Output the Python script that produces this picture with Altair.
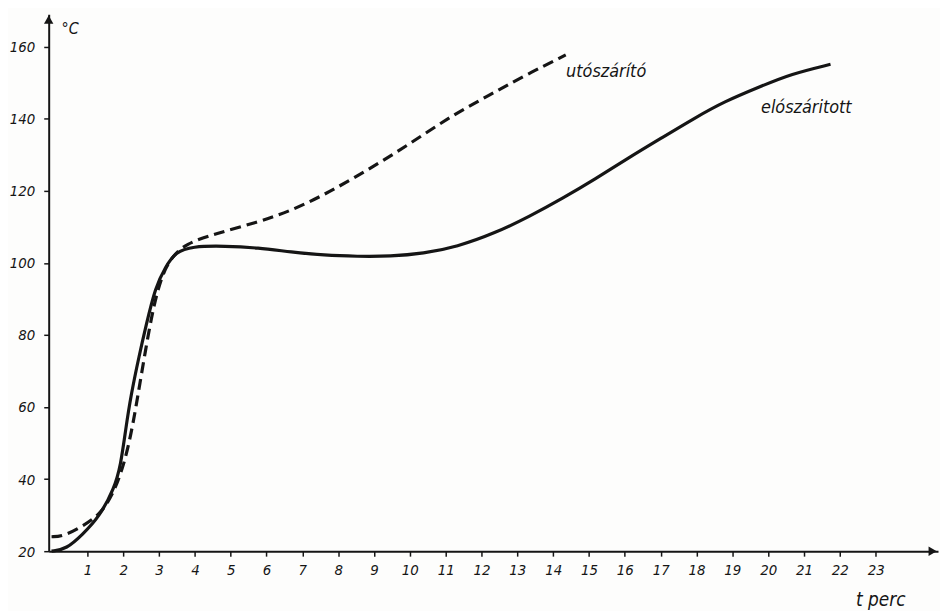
import altair as alt
import pandas as pd

# előszárított (solid) – time [min], temperature [°C]
solid_t = [0.0, 0.42, 0.86, 1.33, 1.75, 1.93, 2.07, 2.21, 2.45, 2.63, 2.9, 3.18, 3.46, 3.92, 4.84,
           5.76, 6.69, 7.61, 8.53, 9.46, 10.38, 11.3, 12.41, 13.34, 14.26, 15.18, 16.11, 17.03,
           17.95, 18.78, 19.8, 20.63, 21.74]
solid_T = [20.0, 20.6, 24.6, 29.5, 37.4, 43.8, 53.9, 63.0, 74.5, 82.3, 93.4, 98.9, 103.0, 104.6,
           104.7, 104.2, 103.0, 102.1, 101.8, 101.8, 102.6, 104.4, 108.4, 112.9, 117.9, 123.3,
           129.2, 134.7, 140.2, 144.8, 149.0, 152.4, 155.1]

# utószárító (dashed)
dash_t = [0.0, 0.32, 0.86, 1.33, 1.7, 2.02, 2.25, 2.44, 2.81, 3.09, 3.36, 3.73, 4.57, 5.76,
          6.69, 7.61, 8.53, 9.46, 10.38, 11.3, 12.23, 13.15, 14.35]
dash_T = [24.0, 24.1, 26.9, 30.0, 35.4, 43.8, 53.9, 65.0, 86.9, 97.0, 101.6, 105.3, 108.1, 111.3,
          114.5, 118.9, 124.1, 129.6, 135.6, 141.6, 146.6, 151.7, 157.7]

x_ticks = list(range(1, 24))
y_ticks = [20, 40, 60, 80, 100, 120, 140, 160]

series_labels = ["utószárító", "elószáritott"]
label_t = [14.36, 19.8]
label_T = [153.0, 142.9]

X_DOM = [-0.08, 24.74]
Y_DOM = [20, 169]

FONT = "DejaVu Sans Condensed, Liberation Sans Narrow, DejaVu Sans"
INK = "#151515"

df_solid = pd.DataFrame({"t": solid_t, "T": solid_T})
df_dash = pd.DataFrame({"t": dash_t, "T": dash_T})
df_lab = pd.DataFrame({"t": label_t, "T": label_T, "label": series_labels})

xs = alt.Scale(domain=X_DOM, nice=False, zero=False)
ys = alt.Scale(domain=Y_DOM, nice=False, zero=False)

xaxis = alt.Axis(values=x_ticks, title=None, grid=False, domainColor=INK, domainWidth=2,
                 tickColor=INK, tickWidth=1.5, tickSize=5, labelFont=FONT, labelFontStyle="italic",
                 labelFontSize=15, labelColor=INK, labelPadding=6, labelFlush=False)
yaxis = alt.Axis(values=y_ticks, title=None, grid=False, domainColor=INK, domainWidth=2,
                 tickColor=INK, tickWidth=1.5, tickSize=5, labelFont=FONT, labelFontStyle="italic",
                 labelFontSize=15, labelColor=INK, labelPadding=9, labelFlush=False)

solid = alt.Chart(df_solid).mark_line(color=INK, strokeWidth=3.2, interpolate="basis").encode(
    x=alt.X("t:Q", scale=xs, axis=xaxis),
    y=alt.Y("T:Q", scale=ys, axis=yaxis),
)
dashed = alt.Chart(df_dash).mark_line(color=INK, strokeWidth=3.2, strokeDash=[11, 6],
                                       interpolate="basis").encode(
    x=alt.X("t:Q", scale=xs),
    y=alt.Y("T:Q", scale=ys),
)
labels = alt.Chart(df_lab).mark_text(font=FONT, fontStyle="italic", fontSize=18, color=INK,
                                      align="left", baseline="middle").encode(
    x=alt.X("t:Q", scale=xs), y=alt.Y("T:Q", scale=ys), text="label:N")

axis_txt = pd.DataFrame({"t": [0.28, 22.45], "T": [164.9, 6.4], "label": ["°C", "t perc"],
                         "size": [16, 19]})
axis_labels = alt.Chart(axis_txt).mark_text(font=FONT, fontStyle="italic", color=INK,
                                             align="left", baseline="middle").encode(
    x=alt.X("t:Q", scale=xs), y=alt.Y("T:Q", scale=ys), text="label:N",
    size=alt.Size("size:Q", scale=None, legend=None))

arrows_df = pd.DataFrame({"t": [X_DOM[0], X_DOM[1] - 0.15], "T": [Y_DOM[1] - 1.5, Y_DOM[0]],
                          "shape": ["triangle-up", "triangle-right"]})
arrows = alt.Chart(arrows_df).mark_point(filled=True, color=INK, opacity=1, size=90).encode(
    x=alt.X("t:Q", scale=xs), y=alt.Y("T:Q", scale=ys),
    shape=alt.Shape("shape:N", scale=None, legend=None))

chart = alt.layer(solid, dashed, labels, axis_labels, arrows).properties(
    width=896, height=541,
    autosize=alt.AutoSizeParams(type="none"),
    padding={"left": 41, "top": 4, "right": 2, "bottom": 58},
    background="#fdfdfc",
).configure_view(stroke=None)

chart.save("out.html", embed_options={"renderer": "svg", "actions": False})
